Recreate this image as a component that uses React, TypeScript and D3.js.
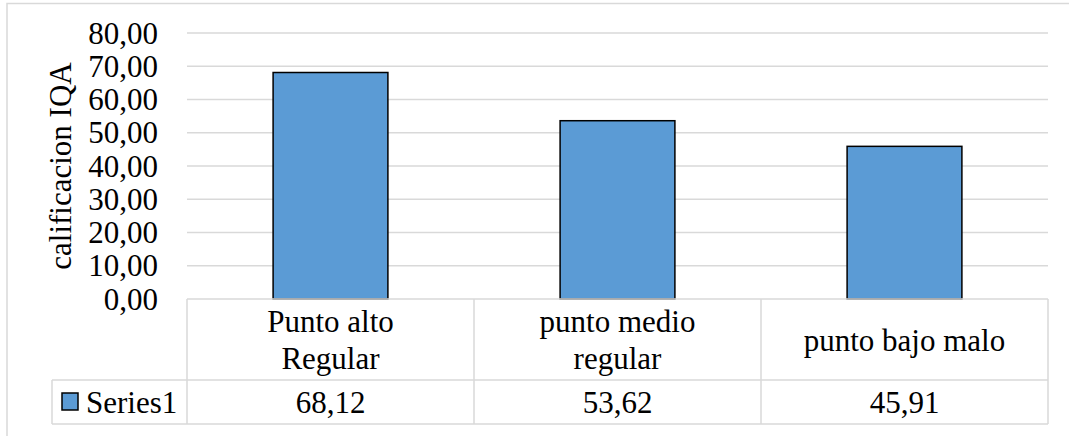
import React from "react";
import * as d3 from "d3";

const categories: string[][] = [
  ["Punto alto", "Regular"],
  ["punto medio", "regular"],
  ["punto bajo malo"],
];
const seriesName = "Series1";
const values: number[] = [68.12, 53.62, 45.91];
const yTicks: number[] = [0, 10, 20, 30, 40, 50, 60, 70, 80];
const yTitle = "calificacion IQA";

const W = 1069;
const H = 436;
const plot = { left: 187, right: 1048, top: 33, bottom: 299 };
const tableRow1Bottom = 380;
const tableRow2Bottom = 424;
const tableLeft = 52;
const font = "Liberation Serif";
const fontSize = 31;
const gridColor = "#d9d9d9";
const barColor = "#5b9bd5";

const fmt = (v: number) => v.toFixed(2).replace(".", ",");

export default function App() {
  const x = d3
    .scaleBand<number>()
    .domain(d3.range(values.length))
    .range([plot.left, plot.right])
    .paddingInner(0.6)
    .paddingOuter(0.3);
  const cols = d3
    .scaleBand<number>()
    .domain(d3.range(values.length))
    .range([plot.left, plot.right]);
  const y = d3.scaleLinear().domain([0, 80]).range([plot.bottom, plot.top]);

  const row1Mid = (plot.bottom + tableRow1Bottom) / 2;
  const row2Mid = (tableRow1Bottom + tableRow2Bottom) / 2;
  const lineH = 37;
  const textStyle = { fontFamily: font, fontSize: `${fontSize}px` };

  return (
    <svg
      width={W}
      height={H}
      style={{ position: "absolute", left: 0, top: 0, background: "#fff" }}
    >
      <rect x={7} y={3.5} width={W + 10} height={H + 10} fill="#fff" stroke={gridColor} strokeWidth={1.5} />

      {yTicks.slice(1).map((t) => (
        <line key={t} x1={plot.left} x2={plot.right} y1={y(t)} y2={y(t)} stroke={gridColor} strokeWidth={1.5} />
      ))}
      {yTicks.map((t) => (
        <text key={t} x={158} y={y(t)} textAnchor="end" dominantBaseline="central" fill="#000" style={textStyle}>
          {fmt(t)}
        </text>
      ))}
      <text
        transform={`translate(60,${(plot.top + plot.bottom) / 2}) rotate(-90)`}
        textAnchor="middle"
        dominantBaseline="central"
        fill="#000"
        style={textStyle}
      >
        {yTitle}
      </text>

      {values.map((v, i) => (
        <rect
          key={i}
          x={x(i)!}
          y={y(v)}
          width={x.bandwidth()}
          height={y(0) - y(v)}
          fill={barColor}
          stroke="#000"
          strokeWidth={1.5}
        />
      ))}

      {/* data table */}
      <g stroke={gridColor} strokeWidth={1.5} fill="none">
        <line x1={plot.left} x2={plot.right} y1={plot.bottom} y2={plot.bottom} />
        <line x1={tableLeft} x2={plot.right} y1={tableRow1Bottom} y2={tableRow1Bottom} />
        <line x1={tableLeft} x2={plot.right} y1={tableRow2Bottom} y2={tableRow2Bottom} />
        <line x1={tableLeft} x2={tableLeft} y1={tableRow1Bottom} y2={tableRow2Bottom} />
        {d3.range(values.length + 1).map((i) => {
          const xx = i < values.length ? cols(i)! : plot.right;
          return <line key={i} x1={xx} x2={xx} y1={plot.bottom} y2={tableRow2Bottom} />;
        })}
      </g>
      {categories.map((lines, i) => {
        const cx = cols(i)! + cols.bandwidth() / 2;
        return (
          <text key={i} x={cx} textAnchor="middle" dominantBaseline="central" fill="#000" style={textStyle}>
            {lines.map((l, j) => (
              <tspan key={j} x={cx} y={row1Mid + (j - (lines.length - 1) / 2) * lineH}>
                {l}
              </tspan>
            ))}
          </text>
        );
      })}
      {values.map((v, i) => (
        <text
          key={i}
          x={cols(i)! + cols.bandwidth() / 2}
          y={row2Mid}
          textAnchor="middle"
          dominantBaseline="central"
          fill="#000"
          style={textStyle}
        >
          {fmt(v)}
        </text>
      ))}
      <rect x={62} y={393} width={16} height={17} fill={barColor} stroke="#000" strokeWidth={1.5} />
      <text x={86} y={row2Mid} dominantBaseline="central" fill="#000" style={textStyle}>
        {seriesName}
      </text>
    </svg>
  );
}
